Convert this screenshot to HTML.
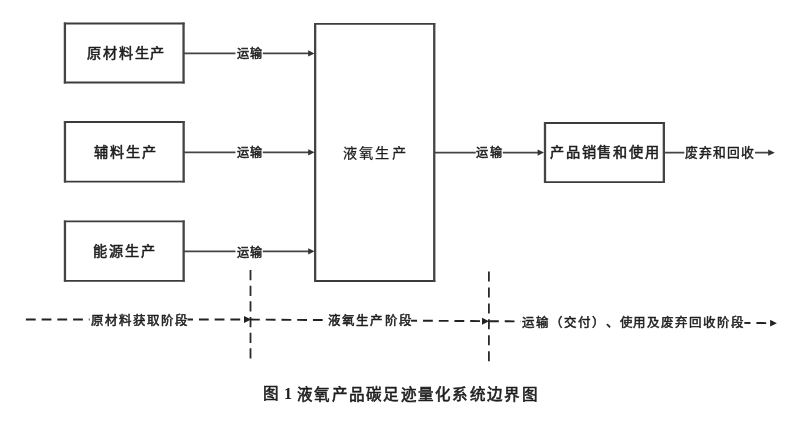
<!DOCTYPE html>
<html lang="zh-CN">
<head>
<meta charset="utf-8">
<title>液氧产品碳足迹量化系统边界图</title>
<style>
html,body{margin:0;padding:0;background:#fff;}
body{width:800px;height:422px;overflow:hidden;position:relative;font-family:"Liberation Sans",sans-serif;color:#1e1e1e;}
svg{position:absolute;left:0;top:0;}
.t{position:absolute;white-space:nowrap;line-height:1;text-spacing-trim:space-all;will-change:transform;}
</style>
</head>
<body>
<svg width="800" height="422" viewBox="0 0 800 422">
<path fill="none" stroke="#3c3c3c" stroke-width="1.9" d="M63.90 23.50H184.55M63.90 82.55H184.55M63.95 121.95H184.65M63.95 181.65H184.65M63.95 221.35H184.65M63.95 280.90H184.65M544.00 122.95H664.85M544.00 182.15H664.85M314.15 23.90H435.25M314.15 281.05H435.25"/>
<path fill="none" stroke="#444" stroke-width="2.3" d="M64.90 22.60V83.45M183.55 22.60V83.45M64.95 121.05V182.55M183.65 121.05V182.55M64.95 220.45V281.80M183.65 220.45V281.80M545.00 122.05V183.05M663.85 122.05V183.05M315.15 23.00V281.95M434.25 23.00V281.95"/>
<g stroke="#444" stroke-width="1.8" fill="none">
<line x1="184" y1="53.45" x2="309" y2="53.45"/>
<line x1="184" y1="152.3" x2="309" y2="152.3"/>
<line x1="184" y1="251.3" x2="309" y2="251.3"/>
<line x1="434" y1="152.6" x2="539" y2="152.6"/>
<line x1="663" y1="152.7" x2="769" y2="152.7"/>
</g>
<g fill="#333">
<polygon points="308.2,50.3 314.5,53.4 308.2,56.5"/>
<polygon points="308.2,149.2 314.5,152.3 308.2,155.4"/>
<polygon points="308.2,248.2 314.5,251.3 308.2,254.4"/>
<polygon points="537.6,149.5 544,152.6 537.6,155.7"/>
<polygon points="768.2,149.6 774.8,152.7 768.2,155.8"/>
</g>
<g stroke="#222" stroke-width="1.9" fill="none" stroke-dasharray="9.8 5.93">
<line x1="25.9" y1="319.5" x2="240.3" y2="319.5"/>
<line x1="250" y1="319.55" x2="480" y2="321.12"/>
<line x1="489" y1="321.18" x2="766.4" y2="323.08"/>
</g>
<g stroke="#2a2a2a" stroke-width="1.8" fill="none">
<line x1="250.5" y1="270" x2="250.5" y2="359.5" stroke-dasharray="10.3 5.36"/>
<line x1="488.9" y1="271.5" x2="488.9" y2="361.5" stroke-dasharray="10 5.94"/>
</g>
<g fill="#222">
<polygon points="244,316.1 251.2,319.5 244,322.9"/>
<polygon points="482,317.8 489,321.3 482,324.8"/>
<polygon points="770.1,319.8 776.9,323.2 770.1,326.6"/>
</g>
<g fill="#fff">
<rect x="235.5" y="50" width="27.3" height="7"/>
<rect x="235.5" y="149" width="27.3" height="7"/>
<rect x="235.5" y="248" width="27.3" height="7"/>
<rect x="475.7" y="149" width="27.1" height="7"/>
<rect x="684.3" y="149" width="70.7" height="7"/>
<rect x="89.6" y="315" width="97.9" height="9"/>
<rect x="327.5" y="316" width="83.5" height="9"/>
<rect x="520.5" y="318" width="223.8" height="9"/>
</g>
</svg>

<div class="t" id="b1" style="left:86.50px;top:46.00px;font-size:14.2px;letter-spacing:1.87px;-webkit-text-stroke:0.55px currentColor;">原材料生产</div>
<div class="t" id="b2" style="left:93.50px;top:145.00px;font-size:14.2px;letter-spacing:2.00px;-webkit-text-stroke:0.55px currentColor;">辅料生产</div>
<div class="t" id="b3" style="left:93.00px;top:244.00px;font-size:14.2px;letter-spacing:2.00px;-webkit-text-stroke:0.55px currentColor;">能源生产</div>
<div class="t" id="big" style="left:343.00px;top:146.00px;font-size:14.2px;letter-spacing:2.23px;-webkit-text-stroke:0.25px currentColor;">液氧生产</div>
<div class="t" id="b5" style="left:550.00px;top:145.00px;font-size:14.2px;letter-spacing:1.79px;-webkit-text-stroke:0.55px currentColor;">产品销售和使用</div>
<div class="t" id="y1" style="left:236.50px;top:48.00px;font-size:12.1px;letter-spacing:1.25px;-webkit-text-stroke:0.55px currentColor;">运输</div>
<div class="t" id="y2" style="left:236.50px;top:147.40px;font-size:12.1px;letter-spacing:1.25px;-webkit-text-stroke:0.55px currentColor;">运输</div>
<div class="t" id="y3" style="left:236.50px;top:246.60px;font-size:12.1px;letter-spacing:1.25px;-webkit-text-stroke:0.55px currentColor;">运输</div>
<div class="t" id="y4" style="left:476.20px;top:147.40px;font-size:12.1px;letter-spacing:1.50px;-webkit-text-stroke:0.55px currentColor;">运输</div>
<div class="t" id="wr" style="left:685.00px;top:147.00px;font-size:12.8px;letter-spacing:1.12px;-webkit-text-stroke:0.45px currentColor;">废弃和回收</div>
<div class="t" id="s1" style="left:91.20px;top:314.60px;font-size:12.5px;letter-spacing:0.93px;-webkit-text-stroke:0.5px currentColor;">原材料获取阶段</div>
<div class="t" id="s2" style="left:327.80px;top:315.20px;font-size:12.5px;letter-spacing:1.16px;-webkit-text-stroke:0.5px currentColor;">液氧生产阶段</div>
<div class="t" id="s3" style="left:522.00px;top:317.00px;font-size:12.5px;letter-spacing:0.93px;-webkit-text-stroke:0.5px currentColor;">运输（交付）、使用及废弃回收阶段</div>
<div class="t" id="c1" style="left:263.00px;top:386.00px;font-size:15.5px;letter-spacing:0.00px;-webkit-text-stroke:0.6px currentColor;">图</div>
<div class="t" id="c2" style="left:283.50px;top:386.00px;font-size:16px;letter-spacing:0.00px;font-weight:bold;font-family:'Liberation Serif',serif;">1</div>
<div class="t" id="c3" style="left:296.70px;top:387.40px;font-size:15.5px;letter-spacing:1.27px;-webkit-text-stroke:0.6px currentColor;">液氧产品碳足迹量化系统边界图</div>
</body>
</html>
